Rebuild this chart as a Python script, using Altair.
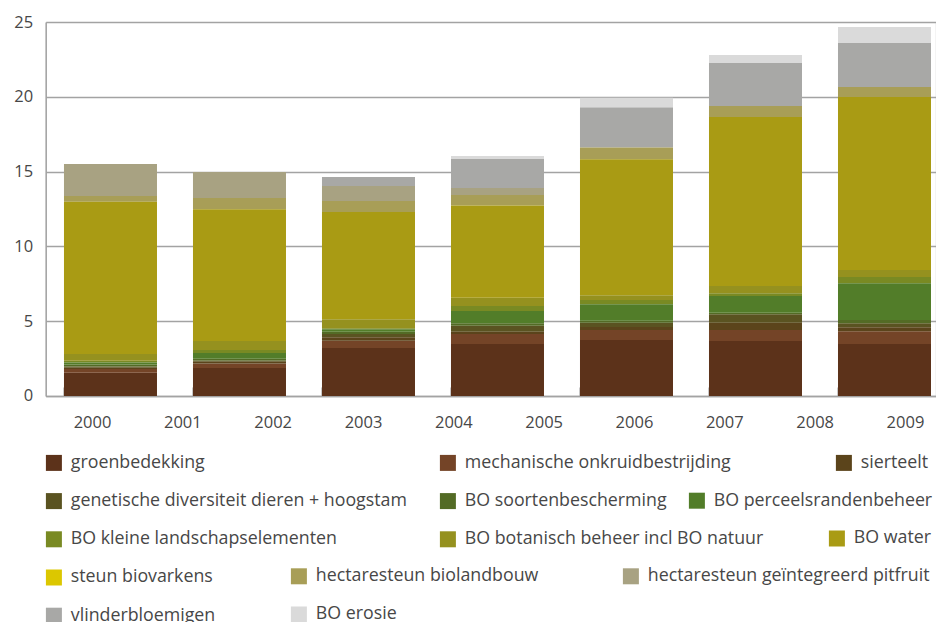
import altair as alt
import pandas as pd

# ---------------- data ----------------
bar_years = ["2000", "2002", "2003", "2005", "2006", "2007", "2009"]
axis_years = ["2000", "2001", "2002", "2003", "2004", "2005", "2006", "2007", "2008", "2009"]

series = [
    "groenbedekking",
    "mechanische onkruidbestrijding",
    "sierteelt",
    "genetische diversiteit dieren + hoogstam",
    "BO soortenbescherming",
    "BO perceelsrandenbeheer",
    "BO kleine landschapselementen",
    "BO botanisch beheer incl BO natuur",
    "BO water",
    "steun biovarkens",
    "hectaresteun biolandbouw",
    "hectaresteun geïntegreerd pitfruit",
    "vlinderbloemigen",
    "BO erosie",
]
colors = [
    "#5c321a", "#744427", "#5b441b", "#5a5321", "#536b25", "#527d29", "#798a23",
    "#95911f", "#a99b14", "#dcc700", "#a89e57", "#a8a282", "#a8a8a6", "#dadada",
]

groenbedekking = [1.56, 1.87, 3.21, 3.48, 3.74, 3.68, 3.48]
mechanisch = [0.24, 0.31, 0.49, 0.66, 0.67, 0.73, 0.84]
sierteelt = [0.09, 0.11, 0.22, 0.16, 0.20, 0.49, 0.27]
genetisch = [0.09, 0.09, 0.22, 0.40, 0.29, 0.56, 0.27]
soorten = [0.13, 0.11, 0.16, 0.16, 0.13, 0.11, 0.22]
perceelsrand = [0.13, 0.38, 0.16, 0.82, 1.11, 1.11, 2.45]
kleine = [0.11, 0.20, 0.07, 0.33, 0.27, 0.18, 0.42]
botanisch = [0.45, 0.60, 0.60, 0.56, 0.33, 0.49, 0.47]
water = [10.19, 8.82, 7.17, 6.16, 9.09, 11.30, 11.57]
biovarkens = [0, 0, 0, 0, 0, 0, 0]
biolandbouw = [0.38, 0.74, 0.74, 0.70, 0.78, 0.74, 0.66]
pitfruit = [2.14, 1.75, 1.00, 0.47, 0, 0, 0]
vlinder = [0, 0, 0.60, 1.94, 2.70, 2.87, 2.95]
erosie = [0, 0, 0, 0.20, 0.62, 0.53, 1.07]

values = [groenbedekking, mechanisch, sierteelt, genetisch, soorten, perceelsrand, kleine,
          botanisch, water, biovarkens, biolandbouw, pitfruit, vlinder, erosie]

rows = []
for i, (name, vals) in enumerate(zip(series, values)):
    for y, v in zip(bar_years, vals):
        rows.append({"year": y, "series": name, "value": v, "order": i})
df = pd.DataFrame(rows)
labels_df = pd.DataFrame({"label": axis_years})

# ---------------- style / layout ----------------
FONT = "Open Sans"
TXT = "#474747"
GRID = "#a3a3a3"
PLOT_W, PLOT_H = 890, 374
LEG_FS = 17.8
ROW_H = 37.8
LEG_Y0 = 432  # top of first legend row, relative to plot origin
# (legend entries, swatch left x in page px, starting row)
legend_layout = [
    ([0, 3, 6, 9, 12], 45, 0),
    ([1, 4, 7], 439, 0),
    ([10, 13], 290, 3),
    ([2], 835, 0),
    ([5], 688, 1),
    ([8], 828, 2),
    ([11], 622, 3),
]
PLOT_LEFT_PAGE = 45.7

x_enc = alt.X(
    "year:N",
    sort=bar_years,
    scale=alt.Scale(domain=bar_years, paddingInner=0.279, paddingOuter=0.089,
                    align=0.796, round=False),
    axis=alt.Axis(title=None, labels=False, domain=False, grid=False, ticks=True,
                  tickSize=9, tickColor=GRID, tickWidth=1.5, offset=-9,
                  bandPosition=0, orient="bottom"),
)
y_enc = alt.Y(
    "v0:Q",
    scale=alt.Scale(domain=[0, 25], nice=False, zero=True),
    axis=alt.Axis(title=None, values=[0, 5, 10, 15, 20, 25], grid=True, gridColor=GRID,
                  gridWidth=1.5, domain=True, domainColor=GRID, domainWidth=1.5,
                  ticks=False, labelPadding=13, labelFontSize=16.5, labelColor=TXT,
                  labelFont=FONT),
)

bar_layers = []
for idxs, lx, row in legend_layout:
    names = [series[i] for i in idxs]
    cols = [colors[i] for i in idxs]
    leg = alt.Legend(
        title=None, orient="none", direction="vertical",
        legendX=lx - PLOT_LEFT_PAGE, legendY=LEG_Y0 + row * ROW_H,
        symbolType="square", symbolSize=256, symbolStrokeWidth=0,
        symbolOpacity=1,
        labelFont=FONT, labelFontSize=LEG_FS, labelColor=TXT, labelOffset=8,
        rowPadding=ROW_H - 18.6,
        padding=0, labelLimit=600,
    )
    layer = (
        alt.Chart(df)
        .transform_stack(stack="value", as_=["v0", "v1"], groupby=["year"],
                         sort=[alt.SortField("order", order="ascending")])
        .transform_filter(alt.FieldOneOfPredicate(field="series", oneOf=names))
        .mark_bar()
        .encode(
            x=x_enc,
            y=y_enc,
            y2="v1:Q",
            color=alt.Color("series:N", scale=alt.Scale(domain=names, range=cols), legend=leg),
        )
    )
    bar_layers.append(layer)

bars = alt.layer(*bar_layers).resolve_scale(color="independent")

label_layer = alt.Chart(labels_df).mark_point(opacity=0).encode(
    x=alt.X(
        "label:N",
        sort=axis_years,
        scale=alt.Scale(type="point", domain=axis_years, padding=0.4265, align=0.601,
                        round=False),
        axis=alt.Axis(title=None, orient="bottom", ticks=False, tickSize=0, domain=True,
                      domainColor=GRID, domainWidth=1.5, grid=False, labelAngle=0,
                      labelPadding=19, labelFontSize=16.5, labelColor=TXT, labelFont=FONT),
    )
)

chart = (
    alt.layer(bars, label_layer)
    .resolve_scale(x="independent")
    .properties(
        width=PLOT_W,
        height=PLOT_H,
        autosize=alt.AutoSizeParams(type="none"),
        padding={"left": 37.7, "top": 14, "right": 0, "bottom": 230},
    )
    .configure_view(strokeWidth=0)
    .configure(font=FONT)
)

chart.save("out.html", embed_options={"renderer": "svg", "actions": False})
